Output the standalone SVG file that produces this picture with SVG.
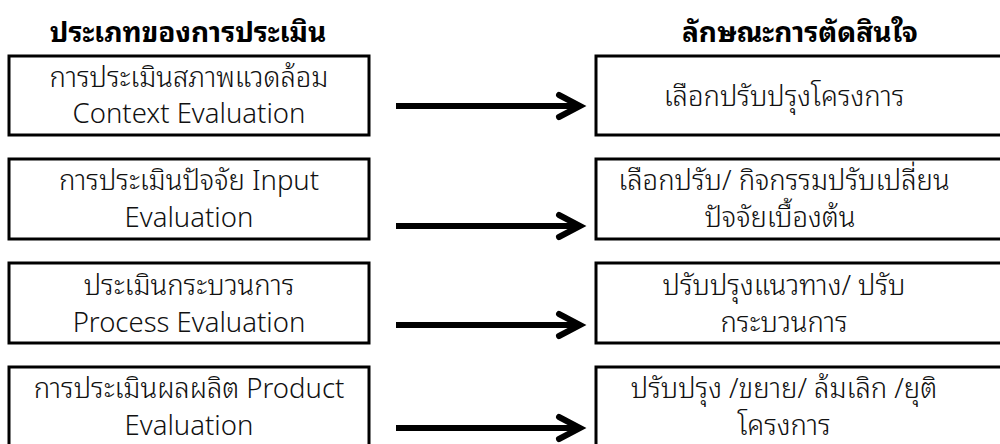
<svg xmlns="http://www.w3.org/2000/svg" width="1000" height="444" viewBox="0 0 1000 444">
<style>
.box{fill:#fff;stroke:#000;stroke-width:3}
.t{font-family:"Noto Sans Thai Looped","Noto Sans Thai","Noto Sans","DejaVu Sans",sans-serif;font-size:27.5px;font-weight:300;fill:#111;text-anchor:middle}
.h{font-family:"Noto Sans Thai Looped","Noto Sans Thai","Noto Sans","DejaVu Sans",sans-serif;font-size:28px;font-weight:bold;fill:#000;text-anchor:middle}
.c{stroke:#000;stroke-width:6;fill:none;stroke-linecap:butt}
.hd{stroke:#000;stroke-width:6;fill:none;stroke-linecap:round;stroke-linejoin:miter}
</style>
<rect width="1000" height="444" fill="#fff"/>
<g id="headers">
<text class="h" x="188" y="42">ประเภทของการประเมิน</text>
<text class="h" x="800" y="42">ลักษณะการตัดสินใจ</text>
</g>
<g id="left1"><rect class="box" x="9" y="56" width="360" height="79"/><text class="t" x="189" y="87">การประเมินสภาพแวดล้อม</text><text class="t" x="189" y="123">Context Evaluation</text></g>
<g id="left2"><rect class="box" x="9" y="159" width="360" height="80"/><text class="t" x="189" y="190">การประเมินปัจจัย Input</text><text class="t" x="189" y="227">Evaluation</text></g>
<g id="left3"><rect class="box" x="9" y="263" width="360" height="80"/><text class="t" x="189" y="295">ประเมินกระบวนการ</text><text class="t" x="189" y="332">Process Evaluation</text></g>
<g id="left4"><rect class="box" x="9" y="367" width="360" height="82"/><text class="t" x="189" y="398">การประเมินผลผลิต Product</text><text class="t" x="189" y="435">Evaluation</text></g>
<g id="right1"><rect class="box" x="596" y="56" width="410" height="79"/><text class="t" x="784" y="106">เลือกปรับปรุงโครงการ</text></g>
<g id="right2"><rect class="box" x="596" y="159" width="410" height="80"/><text class="t" x="784" y="190">เลือกปรับ/ กิจกรรมปรับเปลี่ยน</text><text class="t" x="780" y="227">ปัจจัยเบื้องต้น</text></g>
<g id="right3"><rect class="box" x="596" y="263" width="410" height="80"/><text class="t" x="784" y="295">ปรับปรุงแนวทาง/ ปรับ</text><text class="t" x="784" y="332">กระบวนการ</text></g>
<g id="right4"><rect class="box" x="596" y="367" width="410" height="82"/><text class="t" x="784" y="398">ปรับปรุง /ขยาย/ ล้มเลิก /ยุติ</text><text class="t" x="784" y="435">โครงการ</text></g>
<g id="connectors">
<line class="c" x1="396" y1="106" x2="578" y2="106"/><polyline class="hd" points="559,95 580,106 559,117"/>
<line class="c" x1="396" y1="226" x2="578" y2="226"/><polyline class="hd" points="559,215 580,226 559,237"/>
<line class="c" x1="396" y1="325" x2="578" y2="325"/><polyline class="hd" points="559,314 580,325 559,336"/>
<line class="c" x1="396" y1="428" x2="578" y2="428"/><polyline class="hd" points="559,417 580,428 559,439"/>
</g>
</svg>
